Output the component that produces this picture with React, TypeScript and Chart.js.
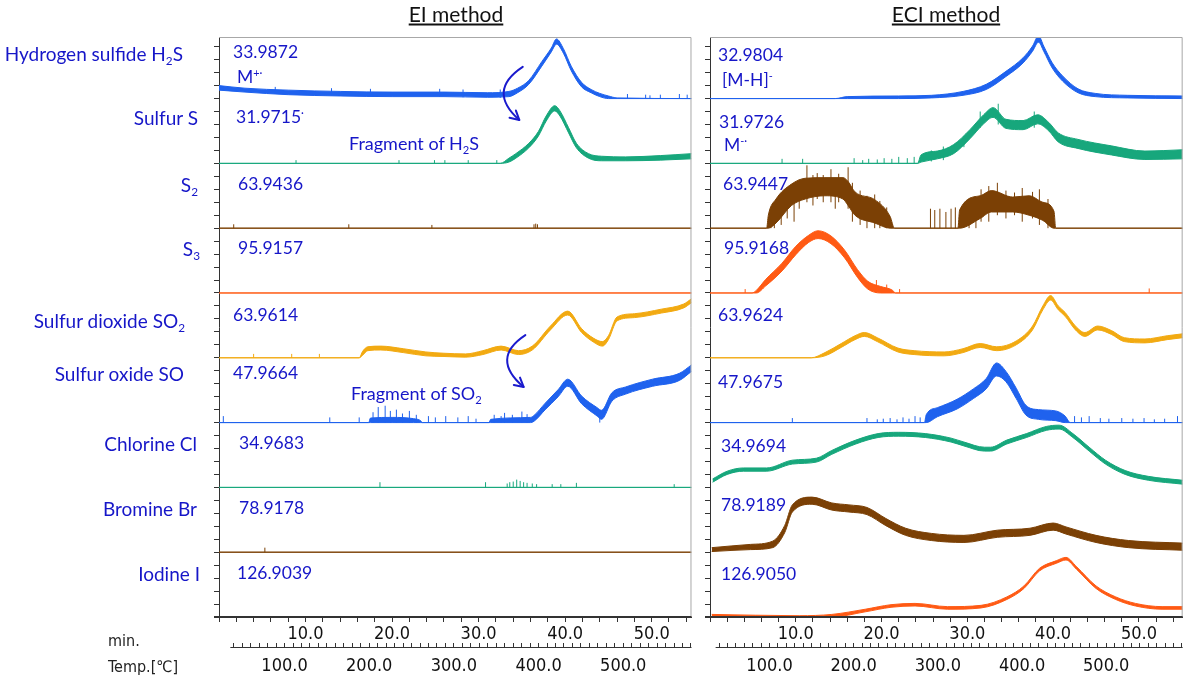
import React, { useEffect, useRef } from 'react';
import { Chart, registerables } from 'chart.js';

Chart.register(...registerables);

// ---------- colours ----------
const C_BLUE = '#1f62ee';
const C_GREEN = '#17a77c';
const C_BROWN = '#7b4005';
const C_RED = '#ff5a14';
const C_ORANGE = '#f2aa12';
const C_LABEL = '#1616c8';

// ---------- data: bands [time(min), lower, upper], spikes [time, from, to]; row-height units ----------
type Band = [number, number, number][];
type Spikes = [number, number, number][];

// EI method
const EI_H2S: Band = [
  [0, 0.13, 0.2], [3, 0.1, 0.16], [8, 0.06, 0.13], [14, 0.04, 0.11], [20, 0.03, 0.1],
  [26, 0.03, 0.1], [31, 0.02, 0.09], [33.5, 0.03, 0.11], [34.5, 0.09, 0.16], [35.8, 0.22, 0.28],
  [37.3, 0.5, 0.57], [38.4, 0.72, 0.78], [39.0, 0.84, 0.92], [39.8, 0.7, 0.77], [40.7, 0.43, 0.5],
  [41.9, 0.18, 0.25], [43, 0.09, 0.14], [44, 0.03, 0.08], [45, 0, 0.04], [46, 0, 0.01], [54.6, 0, 0],
];
const EI_H2S_SPIKES: Spikes = [
  [6.5, 0.07, 0.18], [13, 0.05, 0.16], [17.5, 0.04, 0.15], [25.5, 0.03, 0.15], [28.2, 0.02, 0.14],
  [32.5, 0.01, 0.14], [47.2, 0, 0.07], [49.3, 0, 0.06], [49.8, 0, 0.05], [51, 0, 0.06], [53.2, 0, 0.07], [54.1, 0, 0.06],
];

const EI_S: Band = [
  [0, 0, 0], [32.5, 0, 0], [33.5, 0.02, 0.08], [34.3, 0.08, 0.15], [35.8, 0.24, 0.31], [36.9, 0.42, 0.49],
  [37.8, 0.65, 0.73], [38.8, 0.81, 0.89], [39.4, 0.73, 0.81], [40.4, 0.47, 0.55], [41.3, 0.24, 0.31],
  [42.7, 0.08, 0.15], [44.2, 0.04, 0.11], [47, 0.04, 0.1], [51, 0.05, 0.12], [54.6, 0.07, 0.15],
];
const EI_S_SPIKES: Spikes = [[8.9, 0, 0.05], [20.8, 0, 0.05], [24.9, 0, 0.05], [26.1, 0, 0.05], [28.8, 0, 0.05], [32.1, 0, 0.05]];

const EI_S2: Band = [[0, 0, 0], [54.6, 0, 0]];
const EI_S2_SPIKES: Spikes = [[1.7, 0, 0.06], [15, 0, 0.06], [24.6, 0, 0.05], [36.4, 0, 0.06], [36.6, 0, 0.07], [36.8, 0, 0.06]];

const EI_S3: Band = [[0, 0, 0], [54.6, 0, 0]];
const EI_S3_SPIKES: Spikes = [];

const EI_SO2: Band = [
  [0, 0, 0], [16.2, 0, 0], [16.6, 0.04, 0.1], [17.2, 0.11, 0.17], [18.7, 0.12, 0.18], [21.3, 0.08, 0.14],
  [23.9, 0.03, 0.09], [26, 0.02, 0.07], [28.5, 0.01, 0.06], [30.5, 0.05, 0.11], [32.6, 0.12, 0.18],
  [34.6, 0.05, 0.11], [36.2, 0.12, 0.18], [38.3, 0.43, 0.49], [40.3, 0.66, 0.72], [41.9, 0.39, 0.45],
  [43.3, 0.24, 0.3], [44.3, 0.18, 0.25], [45, 0.28, 0.34], [46, 0.57, 0.63], [48, 0.62, 0.68],
  [51.1, 0.69, 0.75], [53.7, 0.77, 0.83], [54.6, 0.85, 0.91],
];
const EI_SO2_SPIKES: Spikes = [[4.0, 0, 0.06], [8.4, 0, 0.06], [11.6, 0, 0.06]];

const EI_SO: Band = [
  [0, 0, 0], [17.3, 0, 0], [17.5, 0, 0.07], [20, 0, 0.08], [22.5, 0, 0.06], [23.3, 0, 0.03], [23.5, 0, 0],
  [31.2, 0, 0], [31.4, 0, 0.05], [36, 0, 0.08], [36.4, 0.02, 0.11], [37.7, 0.2, 0.3], [39.2, 0.4, 0.51],
  [40.3, 0.56, 0.67], [41.9, 0.29, 0.41], [43.7, 0.1, 0.23], [44.2, 0.05, 0.19], [45.4, 0.33, 0.46],
  [47, 0.44, 0.55], [50.1, 0.56, 0.67], [53.2, 0.65, 0.76], [54.6, 0.79, 0.89],
];
const EI_SO_SPIKES: Spikes = [
  [0.5, 0, 0.1], [12.8, 0, 0.08], [16.2, 0, 0.08], [17.8, 0, 0.16], [18.4, 0, 0.24], [19.2, 0, 0.26],
  [19.8, 0, 0.18], [20.5, 0, 0.2], [21.2, 0, 0.14], [22, 0, 0.18], [22.8, 0, 0.12], [24.2, 0, 0.1],
  [25, 0, 0.08], [26.2, 0, 0.1], [27.6, 0, 0.08], [28.8, 0, 0.1], [29.7, 0, 0.06], [31.8, 0, 0.12],
  [32.6, 0, 0.1], [33, 0, 0.15], [33.9, 0, 0.12], [35, 0, 0.17], [35.6, 0, 0.13], [44.0, 0, 0.1],
];

const EI_CL: Band = [[0, 0, 0], [54.6, 0, 0]];
const EI_CL_SPIKES: Spikes = [
  [18.6, 0, 0.08], [30.8, 0, 0.08], [33.3, 0, 0.06], [33.6, 0, 0.08], [34.0, 0, 0.09], [34.4, 0, 0.12],
  [34.8, 0, 0.1], [35.2, 0, 0.08], [35.6, 0, 0.07], [36.2, 0, 0.06], [36.7, 0, 0.05], [38.5, 0, 0.05],
  [39.5, 0, 0.05], [41.3, 0, 0.07], [52.6, 0, 0.05],
];

const EI_BR: Band = [[0, 0, 0], [54.6, 0, 0]];
const EI_BR_SPIKES: Spikes = [[5.3, 0, 0.07]];

const EI_I: Band = [[0, 0, 0], [54.6, 0, 0]];
const EI_I_SPIKES: Spikes = [];

// ECI method
const ECI_H2S: Band = [
  [0, 0, 0], [14.6, 0, 0], [16, 0, 0.03], [22, 0, 0.04], [25.8, 0.01, 0.05], [29.5, 0.05, 0.11],
  [32.2, 0.14, 0.22], [34.5, 0.34, 0.42], [36.5, 0.55, 0.63], [37.6, 0.73, 0.81], [38.3, 0.87, 0.97],
  [38.9, 0.73, 0.81], [39.9, 0.47, 0.55], [41.1, 0.27, 0.35], [42.9, 0.09, 0.15], [44.9, 0.03, 0.08],
  [48.7, 0.01, 0.05], [55.1, 0, 0.04],
];
const ECI_H2S_SPIKES: Spikes = [];

const ECI_S: Band = [
  [0, 0, 0], [24.2, 0, 0], [24.6, 0.02, 0.13], [26.5, 0.07, 0.19], [28.4, 0.15, 0.29], [30.3, 0.38, 0.52],
  [31.9, 0.61, 0.75], [33, 0.71, 0.86], [34.5, 0.54, 0.68], [36.5, 0.52, 0.66], [38.2, 0.61, 0.75],
  [39.5, 0.5, 0.63], [40.6, 0.33, 0.47], [42.9, 0.23, 0.37], [46.8, 0.13, 0.27], [50.7, 0.06, 0.19],
  [55.1, 0.07, 0.21],
];
const ECI_S_SPIKES: Spikes = [
  [8.4, 0, 0.07], [10.8, 0, 0.07], [16.8, 0, 0.08], [17.8, 0, 0.05], [18.5, 0, 0.07], [19.5, 0, 0.06],
  [20.3, 0, 0.08], [21.2, 0, 0.07], [22, 0, 0.1], [23, 0, 0.08], [23.8, 0, 0.1], [25.8, 0.03, 0.2],
  [27.2, 0.05, 0.26], [29.6, 0.25, 0.42], [31.5, 0.55, 0.8], [33.6, 0.6, 0.92], [37.8, 0.55, 0.8],
];

const ECI_S2: Band = [
  [0, 0, 0], [6.6, 0, 0], [6.8, 0, 0.2], [7.7, 0.08, 0.45], [9.5, 0.35, 0.68], [11.1, 0.45, 0.77],
  [13.4, 0.5, 0.78], [15.5, 0.45, 0.78], [16.1, 0.35, 0.72], [16.9, 0.2, 0.56], [19.2, 0.08, 0.44],
  [21, 0, 0.18], [21.5, 0, 0], [28.9, 0, 0], [29.1, 0, 0.28], [31.5, 0.15, 0.5], [32.8, 0.25, 0.58],
  [35.3, 0.25, 0.48], [37.2, 0.2, 0.5], [38.8, 0.12, 0.4], [40.1, 0, 0.26], [40.3, 0, 0], [55.1, 0, 0],
];
const ECI_S2_SPIKES: Spikes = [
  [7.1, 0, 0.3], [7.5, 0, 0.35], [8.3, 0.05, 0.5], [9.0, 0.15, 0.62], [9.8, 0.1, 0.6], [10.4, 0.3, 0.75],
  [11.3, 0.4, 0.97], [12.0, 0.35, 0.82], [12.5, 0.45, 0.85], [13.2, 0.4, 0.82], [14.1, 0.4, 0.91],
  [14.6, 0.3, 0.7], [15.0, 0.4, 0.84], [16.1, 0.3, 0.94], [16.6, 0.1, 0.7], [17.5, 0.05, 0.58],
  [18.3, 0, 0.5], [19.2, 0, 0.52], [19.8, 0, 0.42], [20.6, 0, 0.32], [25.7, 0, 0.3], [26.2, 0, 0.28],
  [26.8, 0, 0.3], [27.5, 0, 0.25], [28.1, 0, 0.3], [28.6, 0, 0.32], [30.2, 0, 0.45], [31.0, 0, 0.4],
  [31.6, 0.1, 0.6], [32.5, 0.1, 0.65], [33.5, 0.2, 0.7], [34.5, 0.15, 0.58], [35.5, 0.2, 0.55],
  [36.4, 0.1, 0.62], [37.6, 0.15, 0.56], [38.4, 0.05, 0.6], [39.4, 0, 0.45],
];

const ECI_S3: Band = [
  [0, 0, 0], [4.9, 0, 0], [5.4, 0, 0.04], [6.5, 0.11, 0.21], [8.4, 0.34, 0.46], [10, 0.59, 0.72],
  [11.5, 0.78, 0.89], [12.6, 0.84, 0.96], [14.1, 0.76, 0.88], [15.7, 0.54, 0.66], [17.2, 0.24, 0.36],
  [18.4, 0.06, 0.18], [19.9, 0, 0.1], [21.3, 0, 0.04], [21.6, 0, 0], [55.1, 0, 0],
];
const ECI_S3_SPIKES: Spikes = [[4.1, 0, 0.06], [19.4, 0, 0.2], [20.6, 0, 0.13], [22.1, 0, 0.06], [51.2, 0, 0.07]];

const ECI_SO2: Band = [
  [0, 0, 0], [11.8, 0, 0], [13.4, 0.03, 0.08], [15.3, 0.16, 0.22], [16.9, 0.28, 0.34], [18, 0.33, 0.39],
  [19.5, 0.25, 0.31], [21.9, 0.09, 0.15], [23.8, 0.05, 0.11], [27.3, 0.03, 0.09], [29.5, 0.08, 0.14],
  [31.5, 0.16, 0.22], [33.4, 0.11, 0.17], [35.7, 0.2, 0.26], [37.6, 0.43, 0.49], [38.8, 0.74, 0.8],
  [39.7, 0.89, 0.96], [40.6, 0.74, 0.8], [41.4, 0.64, 0.7], [42.6, 0.43, 0.49], [43.7, 0.33, 0.39],
  [45.2, 0.43, 0.49], [46.8, 0.36, 0.42], [48.3, 0.25, 0.31], [50.7, 0.23, 0.29], [53.3, 0.28, 0.34],
  [55.1, 0.31, 0.37],
];
const ECI_SO2_SPIKES: Spikes = [];

const ECI_SO: Band = [
  [0, 0, 0], [25, 0, 0], [25.2, 0, 0.12], [26.5, 0.09, 0.23], [28.8, 0.21, 0.36], [30.7, 0.37, 0.52],
  [32.2, 0.52, 0.68], [33.4, 0.72, 0.92], [34.5, 0.63, 0.79], [35.7, 0.37, 0.53], [36.8, 0.12, 0.27],
  [38.3, 0.05, 0.2], [40.3, 0.03, 0.18], [41.4, 0, 0.1], [42, 0, 0], [55.1, 0, 0],
];
const ECI_SO_SPIKES: Spikes = [
  [9.6, 0, 0.07], [18.3, 0, 0.07], [19.5, 0, 0.05], [20.2, 0, 0.06], [21, 0, 0.07], [21.8, 0, 0.05],
  [22.5, 0, 0.08], [23.2, 0, 0.06], [23.9, 0, 0.1], [24.5, 0, 0.08], [42.5, 0, 0.1], [43.3, 0, 0.08],
  [44.2, 0, 0.1], [45.5, 0, 0.07], [46.5, 0, 0.06], [48, 0, 0.07], [49.3, 0, 0.06], [50.6, 0, 0.07],
  [51.8, 0, 0.05], [53, 0, 0.06], [54.5, 0, 0.1],
];

const ECI_CL: Band = [
  [0.3, 0.08, 0.13], [2, 0.2, 0.25], [3.9, 0.25, 0.3], [6.6, 0.25, 0.3], [9.6, 0.36, 0.42],
  [12.4, 0.39, 0.45], [14.2, 0.51, 0.57], [17, 0.67, 0.73], [19.6, 0.77, 0.83], [22, 0.79, 0.85],
  [25.1, 0.77, 0.83], [28.1, 0.7, 0.76], [29.6, 0.64, 0.7], [32, 0.56, 0.62], [32.7, 0.56, 0.62],
  [34.6, 0.67, 0.73], [36.9, 0.77, 0.83], [39.2, 0.88, 0.94], [40.7, 0.9, 0.96], [42.3, 0.77, 0.83],
  [44.2, 0.56, 0.62], [46.1, 0.36, 0.42], [48.4, 0.2, 0.26], [51.1, 0.11, 0.17], [55.1, 0.05, 0.11],
];
const ECI_CL_SPIKES: Spikes = [];

const ECI_BR: Band = [
  [0.2, 0.01, 0.07], [4.7, 0.04, 0.12], [7.3, 0.07, 0.17], [8.7, 0.3, 0.41], [9.6, 0.62, 0.73],
  [11.9, 0.74, 0.85], [14.2, 0.65, 0.76], [16.2, 0.62, 0.73], [18.3, 0.58, 0.69], [20.5, 0.41, 0.52],
  [22.8, 0.26, 0.37], [25.8, 0.18, 0.29], [29.6, 0.15, 0.26], [33.5, 0.23, 0.34], [37.3, 0.26, 0.37],
  [40, 0.34, 0.45], [41.5, 0.28, 0.39], [45, 0.15, 0.26], [48.8, 0.07, 0.18], [55.1, 0.03, 0.14],
];
const ECI_BR_SPIKES: Spikes = [];

const ECI_I: Band = [
  [0.2, 0.01, 0.04], [10.4, 0, 0.02], [14.2, 0, 0.04], [18.1, 0.08, 0.12], [21.1, 0.15, 0.19],
  [23.9, 0.17, 0.21], [27.7, 0.12, 0.16], [31.6, 0.14, 0.18], [34.6, 0.27, 0.31], [36.6, 0.44, 0.48],
  [38.4, 0.71, 0.75], [40.4, 0.83, 0.87], [41.5, 0.88, 0.92], [42.7, 0.74, 0.78], [45, 0.44, 0.48],
  [47.3, 0.27, 0.31], [49.6, 0.17, 0.21], [52.7, 0.12, 0.16], [55.1, 0.12, 0.16],
];
const ECI_I_SPIKES: Spikes = [];

// ---------- labels ----------
const ROW_NAMES = [
  'Hydrogen sulfide H_{2}S', 'Sulfur S', 'S_{2}', 'S_{3}', 'Sulfur dioxide SO_{2}',
  'Sulfur oxide SO', 'Chlorine Cl', 'Bromine Br', 'Iodine I',
];
const EI_MASSES = ['33.9872', '31.9715^{·}', '63.9436', '95.9157', '63.9614', '47.9664', '34.9683', '78.9178', '126.9039'];
const ECI_MASSES = ['32.9804', '31.9726', '63.9447', '95.9168', '63.9624', '47.9675', '34.9694', '78.9189', '126.9050'];
const EI_IONS = ['M^{+·}'];
const ECI_IONS = ['[M-H]^{-}', 'M^{-·}'];
const NOTES = ['Fragment of H_{2}S', 'Fragment of SO_{2}'];
const TITLES = ['EI method', 'ECI method'];
const AXIS_NAMES = ['min.', 'Temp.[℃]'];

// arrows in data units: [t0, y0, tMid, yMid, t1, y1]
const EI_ARROWS = [
  [35.1, 8.49, 32.9, 8.1, 34.7, 7.67],
  [35.4, 4.35, 33.3, 3.97, 35.2, 3.55],
];

// axis ranges
const EI_TIME_MAX = 54.6;
const ECI_TIME_MAX = 55.1;
const EI_TEMP = [22.6, 580.6];
const ECI_TEMP = [29.3, 590.8];
const TEMP_AXIS_START = 36;
const Y_MAX = 8.95;

const FONT_TEXT = "Lato, 'Open Sans', sans-serif";
const FONT_AXIS = "'Liberation Sans Narrow', 'DejaVu Sans Condensed', 'Roboto Condensed', 'Liberation Sans', sans-serif";

const range = (a: number, b: number, s: number) => {
  const out: number[] = [];
  for (let i = 0; a + i * s <= b + 1e-9; i++) out.push(Math.round((a + i * s) * 1000) / 1000);
  return out;
};

type Trace = { band: Band; spikes: Spikes; color: string };

const EI_TRACES: Trace[] = [
  { band: EI_H2S, spikes: EI_H2S_SPIKES, color: C_BLUE },
  { band: EI_S, spikes: EI_S_SPIKES, color: C_GREEN },
  { band: EI_S2, spikes: EI_S2_SPIKES, color: C_BROWN },
  { band: EI_S3, spikes: EI_S3_SPIKES, color: C_RED },
  { band: EI_SO2, spikes: EI_SO2_SPIKES, color: C_ORANGE },
  { band: EI_SO, spikes: EI_SO_SPIKES, color: C_BLUE },
  { band: EI_CL, spikes: EI_CL_SPIKES, color: C_GREEN },
  { band: EI_BR, spikes: EI_BR_SPIKES, color: C_BROWN },
  { band: EI_I, spikes: EI_I_SPIKES, color: C_RED },
];
const ECI_TRACES: Trace[] = [
  { band: ECI_H2S, spikes: ECI_H2S_SPIKES, color: C_BLUE },
  { band: ECI_S, spikes: ECI_S_SPIKES, color: C_GREEN },
  { band: ECI_S2, spikes: ECI_S2_SPIKES, color: C_BROWN },
  { band: ECI_S3, spikes: ECI_S3_SPIKES, color: C_RED },
  { band: ECI_SO2, spikes: ECI_SO2_SPIKES, color: C_ORANGE },
  { band: ECI_SO, spikes: ECI_SO_SPIKES, color: C_BLUE },
  { band: ECI_CL, spikes: ECI_CL_SPIKES, color: C_GREEN },
  { band: ECI_BR, spikes: ECI_BR_SPIKES, color: C_BROWN },
  { band: ECI_I, spikes: ECI_I_SPIKES, color: C_RED },
];

function buildDatasets(traces: Trace[]) {
  const ds: any[] = [];
  traces.forEach((tr, k) => {
    const base = 8 - k;
    const loIdx = ds.length;
    ds.push({
      data: tr.band.map((p) => ({ x: p[0], y: base + p[1] })),
      borderColor: tr.color, borderWidth: 1, pointRadius: 0, fill: false,
      cubicInterpolationMode: 'monotone',
    });
    ds.push({
      data: tr.band.map((p) => ({ x: p[0], y: base + p[2] })),
      borderColor: tr.color, backgroundColor: tr.color, borderWidth: 1, pointRadius: 0,
      fill: { target: loIdx }, cubicInterpolationMode: 'monotone',
    });
    if (tr.spikes.length) {
      const pts: { x: number; y: number | null }[] = [];
      tr.spikes.forEach(([t, a, b]) => {
        pts.push({ x: t, y: base + a }, { x: t, y: base + b }, { x: t, y: null });
      });
      ds.push({
        data: pts, borderColor: tr.color, borderWidth: 1, pointRadius: 0, fill: false,
        tension: 0, spanGaps: false,
      });
    }
  });
  return ds;
}

const framePlugin = {
  id: 'frame',
  afterDraw(chart: any) {
    const { ctx, chartArea: a } = chart;
    ctx.save();
    ctx.lineWidth = 1;
    // grey top and right border of the panel
    ctx.strokeStyle = '#a8a8a8';
    ctx.beginPath();
    ctx.moveTo(a.left, a.top + 0.5);
    ctx.lineTo(a.right - 0.5, a.top + 0.5);
    ctx.lineTo(a.right - 0.5, a.bottom);
    ctx.stroke();
    // time axis line over the traces
    const xs = chart.scales.x;
    ctx.strokeStyle = '#333';
    ctx.lineWidth = 2;
    ctx.beginPath();
    ctx.moveTo(xs.left - 5, Math.round(xs.top));
    ctx.lineTo(xs.right, Math.round(xs.top));
    ctx.stroke();
    // temperature axis line, along the tick ends of the x2 scale
    const s = chart.scales.x2;
    const y = Math.round(s.top) + 4 + 0.5;
    ctx.lineWidth = 1;
    ctx.beginPath();
    ctx.moveTo(s.getPixelForValue(TEMP_AXIS_START), y);
    ctx.lineTo(s.right, y);
    ctx.stroke();
    ctx.restore();
  },
};

function makeArrowPlugin(items: number[][]) {
  return {
    id: 'arrows',
    afterDatasetsDraw(chart: any) {
      const { ctx } = chart;
      const xs = chart.scales.x;
      const ys = chart.scales.y;
      ctx.save();
      ctx.strokeStyle = '#1a1acd';
      ctx.lineWidth = 2;
      ctx.lineCap = 'round';
      items.forEach(([t0, y0, tm, ym, t1, y1]) => {
        const p0 = [xs.getPixelForValue(t0), ys.getPixelForValue(y0)];
        const pm = [xs.getPixelForValue(tm), ys.getPixelForValue(ym)];
        const p1 = [xs.getPixelForValue(t1), ys.getPixelForValue(y1)];
        const c = [2 * pm[0] - (p0[0] + p1[0]) / 2, 2 * pm[1] - (p0[1] + p1[1]) / 2];
        ctx.beginPath();
        ctx.moveTo(p0[0], p0[1]);
        ctx.quadraticCurveTo(c[0], c[1], p1[0], p1[1]);
        ctx.stroke();
        const ang = Math.atan2(p1[1] - c[1], p1[0] - c[0]);
        ctx.beginPath();
        [-1, 1].forEach((s) => {
          const a = ang + Math.PI + s * 0.5;
          ctx.moveTo(p1[0], p1[1]);
          ctx.lineTo(p1[0] + 10 * Math.cos(a), p1[1] + 10 * Math.sin(a));
        });
        ctx.stroke();
      });
      ctx.restore();
    },
  };
}

function makeConfig(traces: Trace[], timeMax: number, temp: number[], padL: number, padR: number, extra: any[]) {
  const axisFont = { family: FONT_AXIS, size: 18 };
  return {
    type: 'line',
    data: { datasets: buildDatasets(traces) },
    plugins: [framePlugin, ...extra],
    options: {
      animation: false,
      responsive: false,
      events: [],
      layout: { padding: { left: padL, right: padR, top: 37, bottom: 0 } },
      plugins: { legend: { display: false }, tooltip: { enabled: false } },
      scales: {
        x: {
          type: 'linear', position: 'bottom', min: 0, max: timeMax, weight: 0,
          afterBuildTicks: (s: any) => { s.ticks = range(0, timeMax, 2).map((v) => ({ value: v })); },
          afterFit: (s: any) => { s.height = 26; },
          grid: { drawOnChartArea: false, drawTicks: true, tickLength: 5, tickColor: '#333', color: '#333' },
          border: { display: true, color: '#333', width: 1 },
          ticks: {
            autoSkip: false, maxRotation: 0, padding: 2, color: '#111', font: axisFont,
            callback: (v: number) => (v > 0 && v % 10 === 0 ? v.toFixed(1) : ''),
          },
        },
        x2: {
          type: 'linear', position: 'bottom', min: temp[0], max: temp[1], weight: 1,
          afterBuildTicks: (s: any) => { s.ticks = range(40, temp[1], 10).map((v) => ({ value: v })); },
          afterFit: (s: any) => { s.height = 40; },
          grid: { drawOnChartArea: false, drawTicks: true, tickLength: 4, tickColor: '#333', color: '#333' },
          border: { display: false },
          ticks: {
            autoSkip: false, maxRotation: 0, padding: 9, color: '#111', font: axisFont,
            callback: (v: number) => (v % 100 === 0 ? v.toFixed(1) : ''),
          },
        },
        y: {
          type: 'linear', position: 'left', min: 0, max: Y_MAX,
          afterBuildTicks: (s: any) => { s.ticks = range(0, 8.8, 0.2).map((v) => ({ value: v })); },
          afterFit: (s: any) => { s.width = 6; },
          grid: { drawOnChartArea: false, drawTicks: true, tickLength: 5, tickColor: '#333', color: '#333' },
          border: { display: true, color: '#333', width: 1 },
          ticks: { display: false },
        },
      },
    },
  };
}

// ---------- rich text (subscript / superscript) ----------
function Rich({ text }: { text: string }) {
  const parts: React.ReactNode[] = [];
  const re = /([_^])\{([^}]*)\}/g;
  let last = 0;
  let m: RegExpExecArray | null;
  let i = 0;
  while ((m = re.exec(text))) {
    if (m.index > last) parts.push(text.slice(last, m.index));
    const style: React.CSSProperties = { fontSize: '0.62em', lineHeight: 0, position: 'relative' };
    if (m[1] === '_') parts.push(<span key={i++} style={{ ...style, top: '0.35em' }}>{m[2]}</span>);
    else parts.push(<span key={i++} style={{ ...style, top: '-0.6em' }}>{m[2]}</span>);
    last = m.index + m[0].length;
  }
  if (last < text.length) parts.push(text.slice(last));
  return <>{parts}</>;
}

function Txt({ x, y, text, right, size = 18, color = C_LABEL, font = FONT_TEXT, extra }: any) {
  return (
    <div
      style={{
        position: 'absolute', left: x, top: y, whiteSpace: 'nowrap', lineHeight: 1,
        transform: right ? 'translate(-100%, -50%)' : 'translate(0, -50%)',
        fontFamily: font, fontSize: size, color, pointerEvents: 'none', ...extra,
      }}
    >
      <Rich text={text} />
    </div>
  );
}

// label layout (pixel positions of text)
const NAME_POS = [[183, 53], [198, 117], [198, 184], [200, 248], [185, 320], [184, 373], [197, 443], [197, 508], [200, 573]];
const EI_MASS_POS = [[233, 52], [236, 117], [238, 184], [238, 248], [233, 315], [233, 373], [239, 443], [239, 508], [237, 573]];
const ECI_MASS_POS = [[718, 55], [719, 122], [723, 184], [724, 248], [718, 315], [718, 382], [721, 446], [721, 505], [721, 574]];

export default function App() {
  const leftRef = useRef<HTMLCanvasElement>(null);
  const rightRef = useRef<HTMLCanvasElement>(null);

  useEffect(() => {
    document.body.style.margin = '0';
    const c1 = new Chart(leftRef.current as any, makeConfig(EI_TRACES, EI_TIME_MAX, EI_TEMP, 213, 5, [makeArrowPlugin(EI_ARROWS)]) as any);
    const c2 = new Chart(rightRef.current as any, makeConfig(ECI_TRACES, ECI_TIME_MAX, ECI_TEMP, 4, 4, []) as any);
    return () => { c1.destroy(); c2.destroy(); };
  }, []);

  return (
    <div style={{ position: 'absolute', left: 0, top: 0, width: 1191, height: 683, background: '#fff', overflow: 'hidden' }}>
      <canvas ref={leftRef} width={700} height={683} style={{ position: 'absolute', left: 0, top: 0, width: 700, height: 683 }} />
      <canvas ref={rightRef} width={491} height={683} style={{ position: 'absolute', left: 700, top: 0, width: 491, height: 683 }} />

      <Txt x={456} y={13} text={TITLES[0]} size={21} color="#111" extra={{ transform: 'translate(-50%, -50%)', textDecoration: 'underline' }} />
      <Txt x={946} y={13} text={TITLES[1]} size={21} color="#111" extra={{ transform: 'translate(-50%, -50%)', textDecoration: 'underline' }} />

      {ROW_NAMES.map((n, k) => (
        <Txt key={'n' + k} x={NAME_POS[k][0]} y={NAME_POS[k][1]} text={n} right size={19} />
      ))}
      {EI_MASSES.map((n, k) => (
        <Txt key={'e' + k} x={EI_MASS_POS[k][0]} y={EI_MASS_POS[k][1]} text={n} size={17.5} />
      ))}
      {ECI_MASSES.map((n, k) => (
        <Txt key={'c' + k} x={ECI_MASS_POS[k][0]} y={ECI_MASS_POS[k][1]} text={n} size={17.5} />
      ))}
      <Txt x={237} y={77} text={EI_IONS[0]} size={17.5} />
      <Txt x={722} y={80} text={ECI_IONS[0]} size={17.5} />
      <Txt x={724} y={145} text={ECI_IONS[1]} size={17.5} />
      <Txt x={349} y={143} text={NOTES[0]} size={18} />
      <Txt x={351} y={393} text={NOTES[1]} size={18} />

      <Txt x={108} y={641} text={AXIS_NAMES[0]} size={16} color="#222" font={FONT_AXIS} />
      <Txt x={108} y={667} text={AXIS_NAMES[1]} size={16} color="#222" font={FONT_AXIS} />
    </div>
  );
}
